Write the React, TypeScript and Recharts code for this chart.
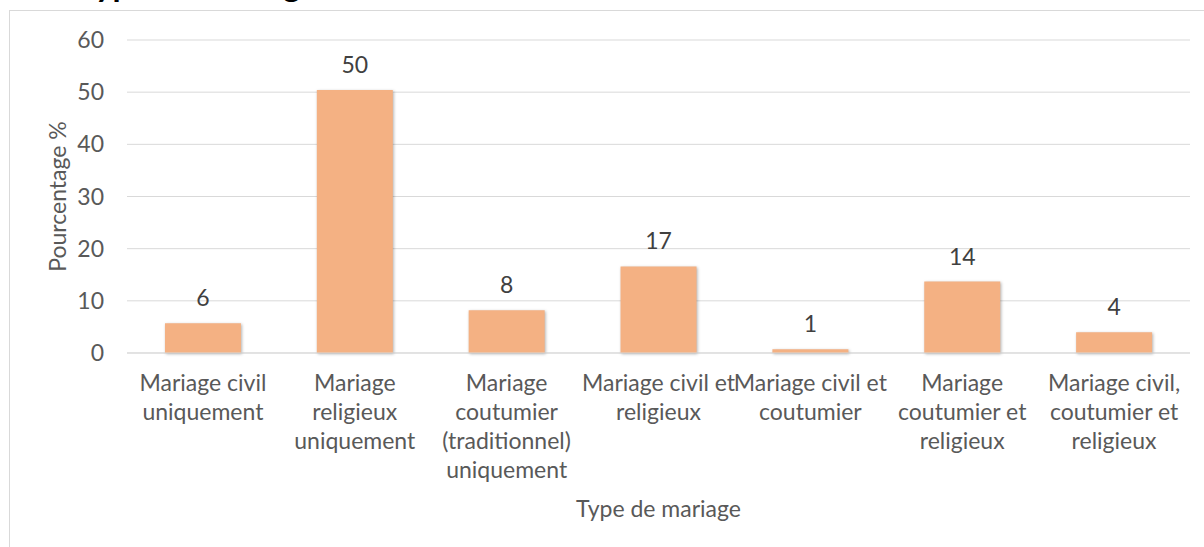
import { BarChart, Bar, XAxis, YAxis, CartesianGrid, LabelList, Rectangle } from 'recharts'

const FONT = 'Lato, "Open Sans", sans-serif'
const FONT_SIZE = 23

const categories = [
  'Mariage civil\nuniquement',
  'Mariage\nreligieux\nuniquement',
  'Mariage\ncoutumier\n(traditionnel)\nuniquement',
  'Mariage civil et\nreligieux',
  'Mariage civil et\ncoutumier',
  'Mariage\ncoutumier et\nreligieux',
  'Mariage civil,\ncoutumier et\nreligieux',
]
const pourcentages = [5.7, 50.4, 8.2, 16.6, 0.7, 13.7, 4.0]
const yTicks = [0, 10, 20, 30, 40, 50, 60]

const data = categories.map((type, i) => ({ type, value: pourcentages[i] }))

function CategoryTick({ x, y, payload }: any) {
  const lines = String(payload.value).split('\n')
  return (
    <text x={x} y={y} textAnchor="middle" fill="#595959" fontSize={FONT_SIZE} fontFamily={FONT}>
      {lines.map((line, i) => (
        <tspan key={i} x={x} dy={i === 0 ? 0 : 29}>
          {line}
        </tspan>
      ))}
    </text>
  )
}

const ShadowBar = (props: any) => (
  <Rectangle {...props} style={{ filter: 'drop-shadow(1px 1px 1.5px rgba(0,0,0,0.3))' }} />
)

export default function App() {
  return (
    <div
      style={{
        position: 'absolute',
        left: 0,
        top: 0,
        width: 1204,
        height: 547,
        overflow: 'hidden',
        background: '#fff',
        fontFamily: FONT,
      }}
    >
      <div
        style={{
          position: 'absolute',
          left: 9,
          top: 10,
          width: 1300,
          height: 700,
          borderTop: '1px solid #d9d9d9',
          borderLeft: '1px solid #d9d9d9',
        }}
      />
      <svg style={{ position: 'absolute', left: 0, top: 0 }} width={1204} height={20}>
        <text x={78} y={-3} fontSize={33} fontWeight={700} fill="#000" fontFamily={FONT}>
          Type de mariage
        </text>
      </svg>
      <div style={{ position: 'absolute', left: 0, top: 0 }}>
        <BarChart
          width={1204}
          height={547}
          data={data}
          margin={{ top: 40, right: 14, left: 0, bottom: 0 }}
          barCategoryGap="25%"
        >
          <CartesianGrid vertical={false} stroke="#d9d9d9" />
          <XAxis
            dataKey="type"
            height={194}
            interval={0}
            tick={<CategoryTick />}
            tickLine={false}
            tickSize={0}
            tickMargin={38}
            axisLine={{ stroke: '#d9d9d9' }}
            label={{
              value: 'Type de mariage',
              position: 'insideBottom',
              offset: 30,
              fill: '#595959',
              fontSize: FONT_SIZE,
              fontFamily: FONT,
            }}
          />
          <YAxis
            width={127}
            domain={[0, 60]}
            ticks={yTicks}
            axisLine={false}
            tickLine={false}
            tickSize={0}
            tickMargin={23}
            tick={{ fill: '#595959', fontSize: FONT_SIZE, fontFamily: FONT }}
            label={{
              value: 'Pourcentage %',
              angle: -90,
              position: 'insideLeft',
              offset: 58,
              fill: '#595959',
              fontSize: FONT_SIZE,
              fontFamily: FONT,
              style: { textAnchor: 'middle' },
            }}
          />
          <Bar dataKey="value" fill="#F4B183" shape={<ShadowBar />} isAnimationActive={false}>
            <LabelList
              dataKey="value"
              position="top"
              offset={17}
              formatter={(v: any) => Math.round(Number(v))}
              fill="#404040"
              fontSize={FONT_SIZE}
              fontFamily={FONT}
            />
          </Bar>
        </BarChart>
      </div>
    </div>
  )
}
